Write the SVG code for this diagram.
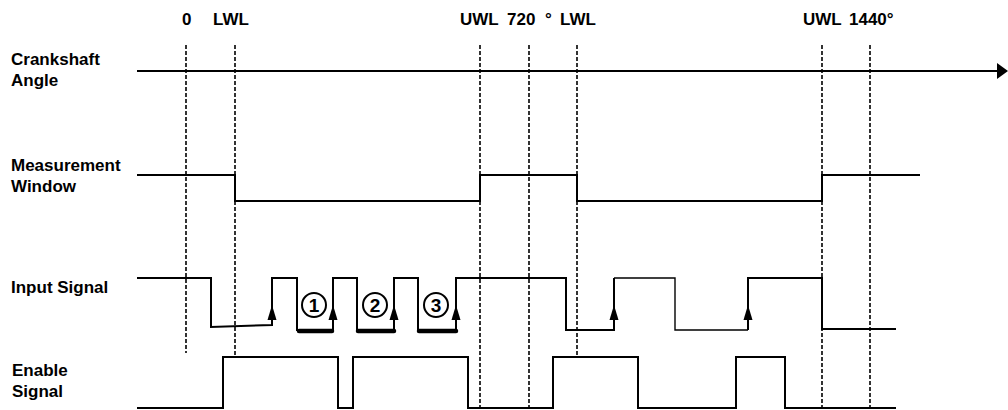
<svg xmlns="http://www.w3.org/2000/svg" width="1008" height="410" viewBox="0 0 1008 410">
<style>
text{font-family:"Liberation Sans",Arial,sans-serif;font-weight:bold;font-size:17px;fill:#000}
.sig{fill:none;stroke:#000;stroke-width:2;stroke-linejoin:miter}
.thin{fill:none;stroke:#000;stroke-width:1.4}
.dash{fill:none;stroke:#000;stroke-width:1.6;stroke-dasharray:4,2}
.bar{stroke:#000;stroke-width:4.5;stroke-linecap:round}
.circ{fill:#fff;stroke:#000;stroke-width:2}
.num{font-size:19px;text-anchor:middle}
</style>
<defs>
<polygon id="ah" points="0,-8 -4.5,7 4.5,7" fill="#000"/>
</defs>
<rect width="1008" height="410" fill="#fff"/>
<g id="top-labels">
<text x="182" y="25">0</text>
<text x="213" y="25">LWL</text>
<text x="460" y="25">UWL</text>
<text x="507" y="25">720</text>
<text x="545" y="25">°</text>
<text x="560" y="25">LWL</text>
<text x="803" y="25">UWL</text>
<text x="849" y="25">1440°</text>
</g>
<g id="row-labels">
<text x="11" y="65">Crankshaft</text>
<text x="11" y="86">Angle</text>
<text x="11" y="171">Measurement</text>
<text x="11" y="192">Window</text>
<text x="11" y="293">Input Signal</text>
<text x="12" y="376">Enable</text>
<text x="12" y="397">Signal</text>
</g>
<g id="markers">
<line class="dash" x1="186" y1="45" x2="186" y2="353"/>
<line class="dash" x1="235" y1="45" x2="235" y2="357"/>
<line class="dash" x1="480" y1="45" x2="480" y2="407"/>
<line class="dash" x1="529" y1="45" x2="529" y2="407"/>
<line class="dash" x1="577" y1="45" x2="577" y2="357"/>
<line class="dash" x1="822" y1="45" x2="822" y2="407"/>
<line class="dash" x1="870" y1="45" x2="870" y2="407"/>
</g>
<g id="crankshaft-axis">
<line class="sig" x1="137" y1="71" x2="999" y2="71"/>
<polygon points="997,63 1008,71 997,79" fill="#000"/>
</g>
<g id="measurement-window">
<polyline class="sig" points="137,175 235,175 235,201 480,201 480,175 577,175 577,201 822,201 822,175 920,175"/>
</g>
<g id="input-signal">
<polyline class="sig" points="137,278 211,278 211,327 272,325 272,278 297,278 297,330 333,330 333,278 357,278 357,330 394,330 394,278 418,278 418,330 456,330 456,278 566,278 566,330 614,330 614,278"/>
<polyline class="thin" points="614,278 675,278 675,330 748,330"/>
<polyline class="sig" points="748,330 748,278 822,278 822,329 896,329"/>
<line class="bar" x1="299" y1="331" x2="332" y2="331"/>
<line class="bar" x1="358" y1="331" x2="394" y2="331"/>
<line class="bar" x1="419" y1="331" x2="456" y2="331"/>
<use href="#ah" x="272" y="313"/>
<use href="#ah" x="333" y="313"/>
<use href="#ah" x="394" y="313"/>
<use href="#ah" x="456" y="313"/>
<use href="#ah" x="614" y="313"/>
<use href="#ah" x="748" y="313"/>
</g>
<g id="badge-1">
<circle class="circ" cx="314" cy="305" r="12"/>
<text class="num" x="314" y="312">1</text>
</g>
<g id="badge-2">
<circle class="circ" cx="375" cy="305" r="12"/>
<text class="num" x="375" y="312">2</text>
</g>
<g id="badge-3">
<circle class="circ" cx="436" cy="305" r="12"/>
<text class="num" x="436" y="312">3</text>
</g>
<g id="enable-signal">
<polyline class="sig" points="137,408 223,408 223,357 338,357 338,408 353,408 353,357 468,357 468,408 553,408 553,357 638,357 638,408 736,408 736,357 785,357 785,408 896,408"/>
</g>
</svg>
